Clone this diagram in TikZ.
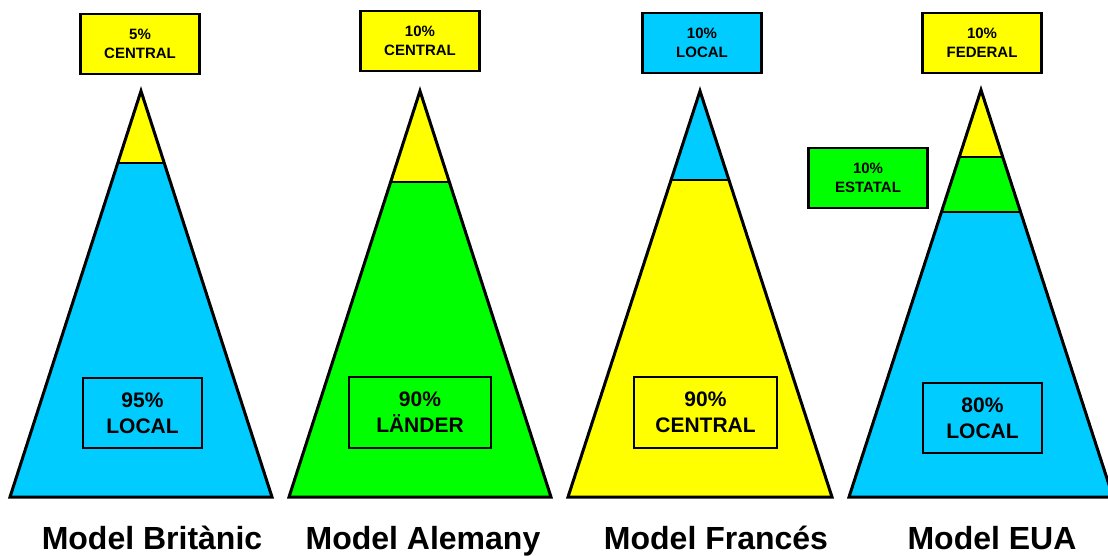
\documentclass[tikz,border=0pt]{standalone}
\usepackage{fontspec}
\setmainfont{Liberation Sans}
\usetikzlibrary{calc}
\definecolor{cy}{HTML}{00CCFF}
\definecolor{yl}{HTML}{FFFF00}
\definecolor{gr}{HTML}{00FF00}
\tikzset{
 topbox/.style={draw, line width=2.5pt, minimum width=119pt, minimum height=60pt, align=center, inner sep=0pt, font=\bfseries\fontsize{15}{19}\selectfont},
 innerbox/.style={draw, line width=2pt, align=center, inner sep=0pt, font=\bfseries\fontsize{21}{26}\selectfont},
 title/.style={font=\bfseries\fontsize{32}{36}\selectfont, anchor=base, inner sep=0pt},
 tri/.style={draw, line width=3pt, line join=miter},
 divider/.style={line width=2.5pt},
}
\begin{document}
\begin{tikzpicture}[x=1pt,y=-1pt]
\useasboundingbox (0,0) rectangle (1108,555);

% Triangle 1 - Britanic
\coordinate (a1) at (141,91); \coordinate (l1) at (10,497); \coordinate (r1) at (272,497);
\coordinate (p1) at ($(a1)!0.1773!(l1)$); \coordinate (q1) at ($(a1)!0.1773!(r1)$);
\fill[cy] (l1) -- (r1) -- (q1) -- (p1) -- cycle;
\fill[yl] (a1) -- (p1) -- (q1) -- cycle;
\draw[divider] (p1) -- (q1);
\draw[tri] (a1) -- (l1) -- (r1) -- cycle;

% Triangle 2 - Alemany
\coordinate (a2) at (420,91); \coordinate (l2) at (289,497); \coordinate (r2) at (551,497);
\coordinate (p2) at ($(a2)!0.2241!(l2)$); \coordinate (q2) at ($(a2)!0.2241!(r2)$);
\fill[gr] (l2) -- (r2) -- (q2) -- (p2) -- cycle;
\fill[yl] (a2) -- (p2) -- (q2) -- cycle;
\draw[divider] (p2) -- (q2);
\draw[tri] (a2) -- (l2) -- (r2) -- cycle;

% Triangle 3 - Frances
\coordinate (a3) at (700,91); \coordinate (l3) at (568,497); \coordinate (r3) at (832,497);
\coordinate (p3) at ($(a3)!0.2192!(l3)$); \coordinate (q3) at ($(a3)!0.2192!(r3)$);
\fill[yl] (l3) -- (r3) -- (q3) -- (p3) -- cycle;
\fill[cy] (a3) -- (p3) -- (q3) -- cycle;
\draw[divider] (p3) -- (q3);
\draw[tri] (a3) -- (l3) -- (r3) -- cycle;

% Triangle 4 - EUA
\coordinate (a4) at (981,90); \coordinate (l4) at (849,497); \coordinate (r4) at (1113,497);
\coordinate (p4) at ($(a4)!0.1646!(l4)$); \coordinate (q4) at ($(a4)!0.1646!(r4)$);
\coordinate (u4) at ($(a4)!0.2998!(l4)$); \coordinate (v4) at ($(a4)!0.2998!(r4)$);
\fill[cy] (l4) -- (r4) -- (v4) -- (u4) -- cycle;
\fill[gr] (u4) -- (v4) -- (q4) -- (p4) -- cycle;
\fill[yl] (a4) -- (p4) -- (q4) -- cycle;
\draw[divider] (p4) -- (q4);
\draw[divider] (u4) -- (v4);
\draw[tri] (a4) -- (l4) -- (r4) -- cycle;

% Top boxes
\node[topbox, fill=yl] (t1) at (140,44) {5\%\\CENTRAL};
\node[topbox, fill=yl] (t2) at (420,41) {10\%\\CENTRAL};
\node[topbox, fill=cy] (t3) at (702,43) {10\%\\LOCAL};
\node[topbox, fill=yl] (t4) at (982,43) {10\%\\FEDERAL};
\node[topbox, fill=gr] (t5) at (868,178) {10\%\\ESTATAL};

% Inner boxes
\node[innerbox, minimum width=119pt, minimum height=70pt] (b1) at (142.5,413) {95\%\\LOCAL};
\node[innerbox, minimum width=142pt, minimum height=71pt] (b2) at (420,412.5) {90\%\\LÄNDER};
\node[innerbox, minimum width=143pt, minimum height=71pt] (b3) at (705.5,412.5) {90\%\\CENTRAL};
\node[innerbox, minimum width=119pt, minimum height=70pt] (b4) at (982.5,418) {80\%\\LOCAL};

% Titles
\node[title] (m1) at (152,549) {Model Britànic};
\node[title] (m2) at (423,549) {Model Alemany};
\node[title] (m3) at (716,549) {Model Francés};
\node[title] (m4) at (992,549) {Model EUA};
\end{tikzpicture}
\end{document}
